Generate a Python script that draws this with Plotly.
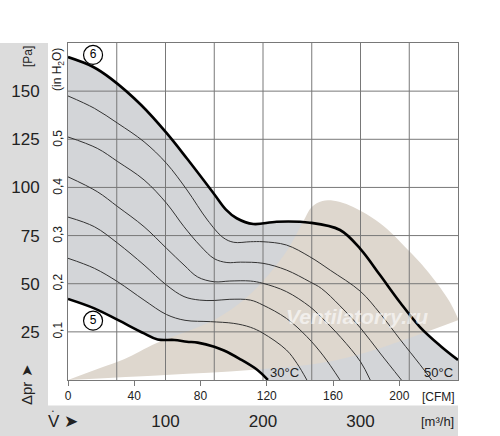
import plotly.graph_objects as go

# fan curves, flow in m3/h, static pressure in Pa
FLOW_6 = [0, 25, 44, 75, 101, 122, 150, 162, 173, 190, 214, 248, 279, 300, 320, 341, 361, 382, 400]
DP_6 = [167.7, 162.8, 156.5, 142.8, 128.3, 115.0, 96.5, 88.5, 84.0, 81.0, 82.2, 81.7, 77.9, 68.0, 54.5, 40.0, 27.5, 17.7, 10.4]

FLOW_T1 = [0, 27, 51, 78, 101, 122, 143, 159, 170, 187, 200, 224, 248, 269, 300, 320, 341, 361, 373]
DP_T1 = [147.5, 141.1, 133.3, 123.7, 112.5, 98.7, 83.1, 74.0, 71.5, 71.8, 71.8, 70.1, 64.0, 57.0, 46.0, 34.6, 20.8, 8.0, 0]

FLOW_T2 = [0, 30, 51, 78, 101, 119, 136, 150, 163, 177, 200, 224, 248, 260, 279, 300, 320, 342]
DP_T2 = [126.2, 120.3, 113.4, 103.9, 91.8, 79.6, 69.5, 63.0, 61.0, 61.2, 60.6, 57.1, 51.0, 47.5, 38.5, 27.0, 14.0, 0]

FLOW_T3 = [0, 30, 51, 78, 101, 119, 133, 150, 166, 187, 200, 224, 248, 260, 280, 300, 310]
DP_T3 = [105.5, 97.8, 90.0, 79.6, 68.4, 59.7, 53.5, 51.0, 51.4, 51.4, 50.2, 45.9, 38.1, 32.5, 22.0, 9.5, 0]

FLOW_T4 = [0, 27, 51, 78, 101, 119, 135, 150, 166, 187, 200, 224, 245, 262, 279]
DP_T4 = [84.6, 79.6, 71.0, 59.7, 49.3, 43.3, 41.5, 41.3, 41.9, 41.5, 38.9, 32.0, 22.5, 12.5, 0]

FLOW_T5 = [0, 27, 51, 78, 101, 120, 146, 170, 187, 200, 224, 235, 245]
DP_T5 = [63.2, 58.0, 51.0, 41.5, 34.0, 31.0, 30.3, 29.4, 27.4, 24.3, 15.6, 8.5, 0]

FLOW_5 = [0, 27, 51, 78, 92, 109, 122, 133, 150, 160, 176, 194, 205]
DP_5 = [42.1, 37.2, 31.2, 24.2, 21.0, 20.8, 19.9, 19.4, 17.3, 15.3, 11.0, 5.3, 0]

# beige operating zone
ZONE_LOW_FLOW = [0, 100, 187, 259, 300, 354, 400]
ZONE_LOW_DP = [0, 2.6, 5.2, 8.8, 13.5, 22.5, 31.0]
ZONE_HIGH_FLOW = [0, 33, 58, 91, 150, 180, 200, 225, 241, 250, 261, 279, 306, 327, 345, 362, 378, 391, 400]
ZONE_HIGH_DP = [0, 6.2, 10.9, 19.2, 31.2, 41.5, 51.4, 67.5, 82.0, 89.8, 93.0, 92.4, 86.2, 78.5, 69.5, 60.5, 50.5, 41.0, 32.0]

# axes
GRID_FLOW = [50, 100, 150, 200, 250, 300, 350]
GRID_DP = [25, 50, 75, 100, 125, 150]
FLOW_TICKS = [100, 200, 300]
CFM_TICKS = [0, 40, 80, 120, 160, 200]
INH2O_TICKS = [0.1, 0.2, 0.3, 0.4, 0.5]
INH2O_LABELS = ["0,1", "0,2", "0,3", "0,4", "0,5"]

FLOW_MAX = 400
DP_MAX = 175
CFM_PER_M3H = 1 / 1.699
INH2O_PER_PA = 1 / 249.089

GRAY = "rgb(211,213,216)"
BEIGE = "rgb(222,215,206)"
BAND = "rgb(220,220,220)"
GRID = "rgb(120,120,120)"
FONT = "Liberation Sans, Arial, sans-serif"

fig = go.Figure()

# grey range between the two extreme curves
fig.add_trace(go.Scatter(x=FLOW_6, y=DP_6, mode="lines", line=dict(width=0, shape="spline"),
                         fill="tozeroy", fillcolor=GRAY, hoverinfo="skip"))
fig.add_trace(go.Scatter(x=FLOW_5, y=DP_5, mode="lines", line=dict(width=0, shape="spline"),
                         fill="tozeroy", fillcolor="white", hoverinfo="skip"))

# beige zone
fig.add_trace(go.Scatter(x=ZONE_LOW_FLOW, y=ZONE_LOW_DP, mode="lines",
                         line=dict(width=0, shape="spline"), hoverinfo="skip"))
fig.add_trace(go.Scatter(x=ZONE_HIGH_FLOW, y=ZONE_HIGH_DP, mode="lines",
                         line=dict(width=0, shape="spline"), fill="tonexty",
                         fillcolor=BEIGE, hoverinfo="skip"))

# grid on top of the fills
gx, gy = [], []
for v in GRID_FLOW:
    gx += [v, v, None]
    gy += [0, DP_MAX, None]
for p in GRID_DP:
    gx += [0, FLOW_MAX, None]
    gy += [p, p, None]
fig.add_trace(go.Scatter(x=gx, y=gy, mode="lines", line=dict(color=GRID, width=1),
                         hoverinfo="skip"))

# thin intermediate curves
for fx, fy in [(FLOW_T1, DP_T1), (FLOW_T2, DP_T2), (FLOW_T3, DP_T3),
               (FLOW_T4, DP_T4), (FLOW_T5, DP_T5)]:
    fig.add_trace(go.Scatter(x=fx, y=fy, mode="lines",
                             line=dict(color="#333333", width=1, shape="spline")))

# bold limit curves
for fx, fy in [(FLOW_6, DP_6), (FLOW_5, DP_5)]:
    fig.add_trace(go.Scatter(x=fx, y=fy, mode="lines",
                             line=dict(color="black", width=2.6, shape="spline")))

# circled curve numbers
fig.add_trace(go.Scatter(x=[25.7, 25.7], y=[168.8, 30.8], mode="markers+text",
                         text=["6", "5"], textposition="middle center",
                         textfont=dict(size=12, color="black", family=FONT),
                         marker=dict(size=19, color="white", line=dict(color="black", width=1.2)),
                         cliponaxis=False))

# secondary axes for CFM and inH2O (invisible point just to activate them)
fig.add_trace(go.Scatter(x=[0], y=[0], xaxis="x2", yaxis="y2", mode="markers",
                         marker=dict(opacity=0), hoverinfo="skip"))

PW = 500 - 68 - 42
PH = 436 - 43 - 56


def px(x):
    return (x - 68) / PW


def py(y):
    return (380 - y) / PH


def note(text, x, y, size, angle=0, **font):
    return dict(text=text, x=px(x), y=py(y), xref="paper", yref="paper",
                xanchor="center", yanchor="middle", textangle=angle,
                showarrow=False, font=dict(size=size, **font))


fig.update_layout(
    width=500, height=436,
    margin=dict(l=68, r=42, t=43, b=56),
    paper_bgcolor="white", plot_bgcolor="white",
    showlegend=False,
    font=dict(family=FONT, color="#222222"),
    xaxis=dict(range=[0, FLOW_MAX], showgrid=False, zeroline=False, automargin=False,
               showline=True, mirror=True, linecolor=GRID, linewidth=1,
               tickvals=FLOW_TICKS, ticks="", ticklabelstandoff=26,
               tickfont=dict(size=17, color="#222222")),
    xaxis2=dict(range=[0, FLOW_MAX * CFM_PER_M3H], overlaying="x", side="bottom",
                anchor="y", showgrid=False, zeroline=False, showline=False, automargin=False,
                tickvals=CFM_TICKS, ticks="outside", ticklen=5, tickcolor=GRID,
                tickfont=dict(size=12, color="#222222")),
    yaxis=dict(range=[0, DP_MAX], showgrid=False, zeroline=False, automargin=False,
               showline=True, mirror=True, linecolor=GRID, linewidth=1,
               tickvals=GRID_DP, ticks="", ticklabelstandoff=24,
               tickfont=dict(size=17, color="#222222")),
    yaxis2=dict(range=[0, DP_MAX * INH2O_PER_PA], overlaying="y", side="left",
                anchor="x", showgrid=False, zeroline=False, showline=False, automargin=False,
                tickvals=INH2O_TICKS, ticktext=INH2O_LABELS, tickangle=-90,
                ticks="", ticklabelstandoff=3,
                tickfont=dict(size=12, color="#222222")),
    shapes=[
        dict(type="rect", xref="paper", yref="paper", x0=px(0), x1=px(48),
             y0=py(436), y1=py(43), fillcolor=BAND, line=dict(width=0), layer="below"),
        dict(type="rect", xref="paper", yref="paper", x0=px(0), x1=1,
             y0=py(436), y1=py(405.5), fillcolor=BAND, line=dict(width=0), layer="below"),
    ],
    annotations=[
        note("[Pa]", 28, 57, 12, -90),
        note("(in H<sub>2</sub>O)", 58, 70, 12, -90),
        note("Δpr ➤", 26, 385, 15, -90),
        note("V ➤", 63, 421, 17),
        note("•", 52.5, 411, 5),
        note("[CFM]", 438, 397, 12),
        note("[m³/h]", 437, 421, 13),
        note("30°C", 284, 372, 13),
        note("50°C", 438, 372, 13),
        note("Ventilatorry.ru", 357, 316, 21, color="rgba(255,255,255,0.6)",
             style="italic", weight="bold"),
    ],
)

fig.write_html("out.html", config={"displayModeBar": False},
               post_script="document.body.style.margin='0';")
